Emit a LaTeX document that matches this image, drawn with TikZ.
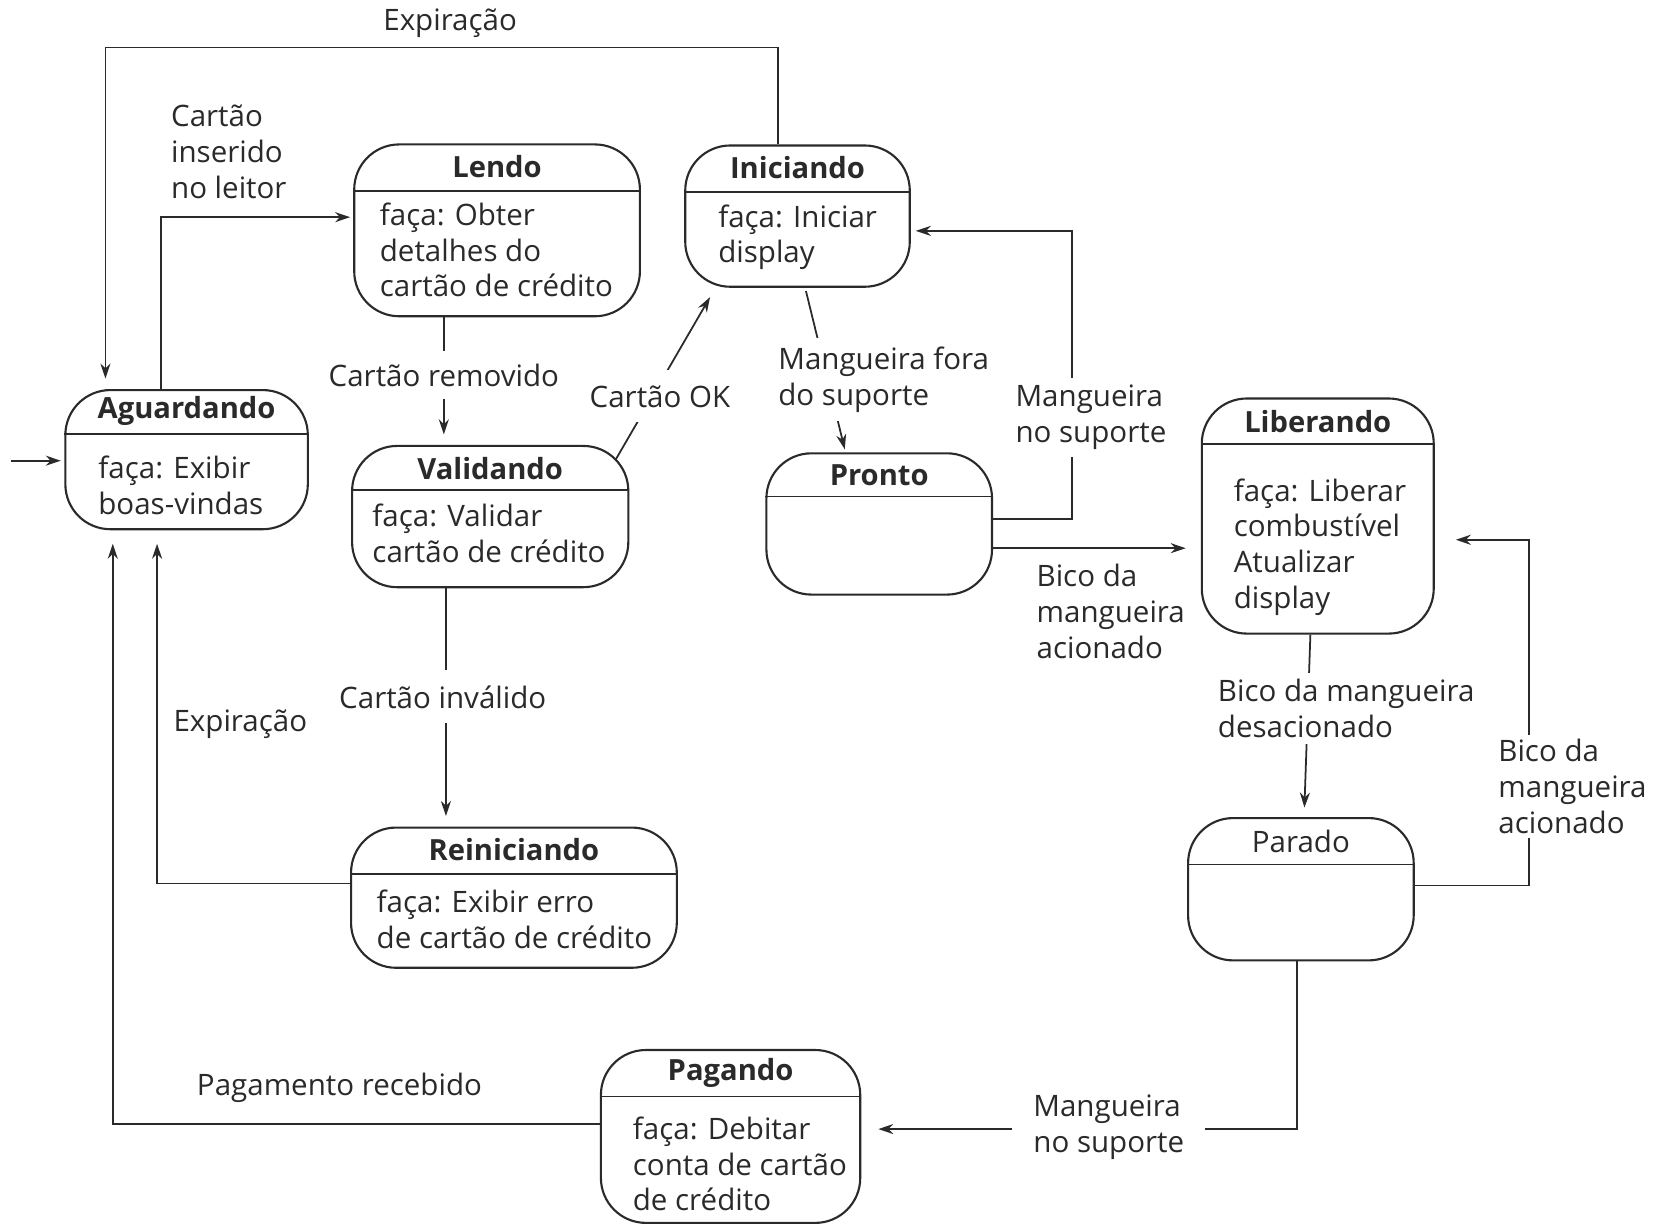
\documentclass[tikz,border=0pt]{standalone}
\usepackage{fontspec}
\setmainfont{Open Sans}
\usetikzlibrary{arrows.meta,calc,fit}

\definecolor{ink}{HTML}{2A2A2A}

\begin{document}
\begin{tikzpicture}[x=0.021084cm, y=-0.021084cm,
  every node/.style={text=ink, font=\fontsize{16.8}{20.4}\selectfont},
  state/.style={draw=ink, line width=1.2pt, rounded corners=0.9cm, inner sep=0pt},
  sep/.style={draw=ink, line width=1pt},
  ttl/.style={font=\fontsize{16.6}{20.4}\selectfont\bfseries, inner sep=0pt},
  plain/.style={inner sep=0pt},
  body/.style={anchor=west, align=left, inner sep=0pt},
  lbl/.style={align=left, inner xsep=0pt, inner ysep=0.1cm, fill=white},
  note/.style={align=left, inner sep=0pt},
  arr/.style={draw=ink, line width=1pt, -{Stealth[length=0.3cm, width=0.2cm]}},
  link/.style={draw=ink, line width=1pt}
]
\useasboundingbox[fill=white] (0,0) rectangle (1568,1164);

% ---------- states ----------
\node[state, fit={(62,370) (292,502)}] (aguardando) {};
\draw[sep] (aguardando.west |- 0,412) -- (aguardando.east |- 0,412);
\node[ttl] (aguardando-t) at (aguardando.center |- 0,390) {Aguardando};
\node[body] (aguardando-b) at (93,460) {faça: Exibir\\boas-vindas};

\node[state, fit={(336,137) (607,300)}] (lendo) {};
\draw[sep] (lendo.west |- 0,181) -- (lendo.east |- 0,181);
\node[ttl] (lendo-t) at (lendo.center |- 0,158) {Lendo};
\node[body] (lendo-b) at (360,237) {faça: Obter\\detalhes do\\cartão de crédito};

\node[state, fit={(650,138) (863,272)}] (iniciando) {};
\draw[sep] (iniciando.west |- 0,182) -- (iniciando.east |- 0,182);
\node[ttl] (iniciando-t) at (iniciando.center |- 0,159) {Iniciando};
\node[body] (iniciando-b) at (681,225) {faça: Iniciar\\display};

\node[state, fit={(334,423) (596,557)}] (validando) {};
\draw[sep] (validando.west |- 0,465) -- (validando.east |- 0,465);
\node[ttl] (validando-t) at (validando.center |- 0,444) {Validando};
\node[body] (validando-b) at (353,506) {faça: Validar\\cartão de crédito};

\node[state, fit={(727,430) (941,564)}] (pronto) {};
\draw[sep] (pronto.west |- 0,471) -- (pronto.east |- 0,471);
\node[ttl] (pronto-t) at (pronto.center |- 0,451) {Pronto};

\node[state, fit={(1140,378) (1360,601)}] (liberando) {};
\draw[sep] (liberando.west |- 0,421) -- (liberando.east |- 0,421);
\node[ttl] (liberando-t) at (liberando.center |- 0,400) {Liberando};
\node[body] (liberando-b) at (1170,519) {faça: Liberar\\combustível\\Atualizar\\display};

\node[state, fit={(333,785) (642,918)}] (reiniciando) {};
\draw[sep] (reiniciando.west |- 0,829) -- (reiniciando.east |- 0,829);
\node[ttl] (reiniciando-t) at (reiniciando.center |- 0,806) {Reiniciando};
\node[body] (reiniciando-b) at (357,872) {faça: Exibir erro\\de cartão de crédito};

\node[state, fit={(1127,776) (1341,911)}] (parado) {};
\draw[sep] (parado.west |- 0,820) -- (parado.east |- 0,820);
\node[plain] (parado-t) at (parado.center |- 0,798) {Parado};

\node[state, fit={(570,996) (816,1160)}] (pagando) {};
\draw[sep] (pagando.west |- 0,1040) -- (pagando.east |- 0,1040);
\node[ttl] (pagando-t) at (pagando.center |- 0,1018) {Pagando};
\node[body] (pagando-b) at (600,1104) {faça: Debitar\\conta de cartão\\de crédito};

% ---------- transitions ----------
% initial transition
\coordinate (init) at (10,437);
\draw[arr, shorten >=2pt] (init) -- (aguardando.west |- init);

% card inserted
\coordinate (b1) at (153,206);
\draw[arr, shorten >=0.06cm] (aguardando.north -| b1) |- (lendo.west |- b1);
\node[note, anchor=west] (l-inserido) at (162,144) {Cartão\\inserido\\no leitor};

% timeout while starting
\coordinate (b2) at (738,45);
\coordinate (b3) at (100,45);
\draw[arr, shorten >=0.21cm] (iniciando.north -| b2) -- (b2) -- (b3) -- (aguardando.north -| b3);
\node[note] (l-exp1) at (427,22) {Expiração};

% card removed
\coordinate (b4) at (421,0);
\draw[arr, shorten >=0.21cm] (lendo.south -| b4) -- (validando.north -| b4);
\node[lbl, inner ysep=0.25cm] (l-removido) at (421,356) {Cartão removido};

% card ok
\draw[arr, shorten >=0.02cm] ($(validando.north east)+(-13,14)$) -- ($(iniciando.south west)+(25,8)$);
\node[lbl, inner ysep=0.3cm, inner xsep=2pt] (l-ok) at (626,376) {Cartão OK};

% hose off the holder
\draw[arr, shorten >=0.06cm] ($(iniciando.south)+(8,3)$) -- ($(pronto.north)+(-32,0)$);
\node[lbl, anchor=west, inner ysep=0.18cm] (l-fora) at (738,360) {Mangueira fora\\do suporte};

% hose back on the holder
\coordinate (b5) at (1017,492);
\coordinate (b6) at (1017,219);
\draw[arr, shorten >=0.1cm] (pronto.east |- b5) -- (b5) -- (b6) -- (iniciando.east |- b6);
\node[lbl, anchor=west, inner ysep=0.14cm] (l-nosup1) at (963,396) {Mangueira\\no suporte};

% nozzle triggered
\coordinate (b7) at (0,520);
\draw[arr, shorten >=0.3cm] (pronto.east |- b7) -- (liberando.west |- b7);
\node[note, anchor=west] (l-bico1) at (983,580) {Bico da\\mangueira\\acionado};

% nozzle released
\draw[arr, shorten >=0.19cm] ($(liberando.south)+(-7,0)$) -- ($(parado.north)+(3,0)$);
\node[lbl, anchor=west, inner ysep=0.12cm] (l-desac) at (1155,672) {Bico da mangueira\\desacionado};

% nozzle triggered again
\coordinate (b8) at (1450,840);
\coordinate (b9) at (1450,512);
\draw[arr, shorten >=0.42cm] (parado.east |- b8) -- (b8) -- (b9) -- (liberando.east |- b9);
\node[lbl, anchor=west, inner ysep=0.08cm] (l-bico2) at (1421,746) {Bico da\\mangueira\\acionado};

% card invalid
\coordinate (b10) at (423,0);
\draw[arr, shorten >=0.21cm] (validando.south -| b10) -- (reiniciando.north -| b10);
\node[lbl, inner ysep=0.3cm] (l-invalido) at (420,661) {Cartão inválido};

% timeout after error
\coordinate (b11) at (149,838);
\draw[arr, shorten >=0.27cm] (reiniciando.west |- b11) -- (b11) -- (aguardando.south -| b11);
\node[note] (l-exp2) at (228,687) {Expiração};

% payment received
\coordinate (b12) at (107,1066);
\draw[arr, shorten >=0.27cm] (pagando.west |- b12) -- (b12) -- (aguardando.south -| b12);
\node[note] (l-pag) at (322,1032) {Pagamento recebido};

% hose returned, go to payment
\coordinate (b13) at (1230,1071);
\draw[arr, shorten >=0.34cm] (parado.south -| b13) -- (b13) -- (pagando.east |- b13);
\node[lbl, anchor=west, inner xsep=0.42cm, inner ysep=0.05cm] (l-nosup2) at (960,1069) {Mangueira\\no suporte};

\end{tikzpicture}
\end{document}
